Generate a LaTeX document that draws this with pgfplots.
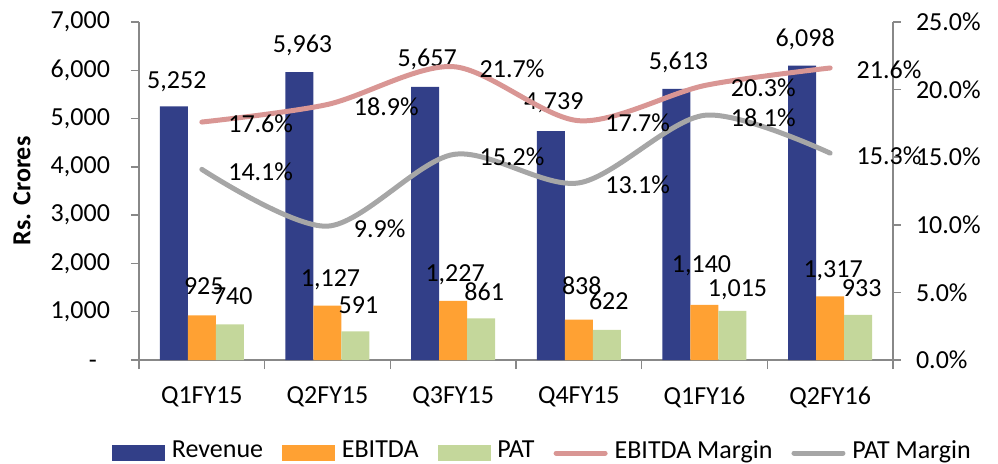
\documentclass[border=0pt]{standalone}
\usepackage{pgfplots}
\pgfplotsset{compat=1.18}
\usepackage{pgfplotstable}
\usepackage{fontspec}
\setmainfont{Carlito}
\definecolor{rev}{HTML}{323F88}
\definecolor{ebitda}{HTML}{FFA133}
\definecolor{pat}{HTML}{C4D79B}
\definecolor{em}{HTML}{D99694}
\definecolor{pm}{HTML}{A6A6A6}
\definecolor{axgray}{HTML}{888888}
% values; ox*/oy* = label offsets (pt) as placed in the reference
\pgfplotstableread{
x rev ebitda pat em pm oxr oyr oxe oye oxp oyp
0 5252 925 740 17.6 14.1 1.5 9.0 1.0 10.0 1.5 9.5
1 5963 1127 591 18.9 9.9 1.5 9.5 1.5 9.5 1.5 9.0
2 5657 1227 861 21.7 15.2 1.0 10.0 1.0 9.5 1.5 9.0
3 4739 838 622 17.7 13.1 1.5 10.5 1.5 12.5 1.0 10.0
4 5613 1140 1015 20.3 18.1 1.0 9.5 -1.5 16.0 2.5 7.0
5 6098 1317 933 21.6 15.3 1.5 9.5 1.5 9.5 1.8 9.0
}\data
\begin{document}
\begin{tikzpicture}[font=\fontsize{13}{15.6}\selectfont]
\useasboundingbox (-69.5pt,-51.5pt) rectangle (429.5pt,180pt);
\begin{axis}[
  scale only axis, width=377pt, height=169pt,
  xmin=-0.5, xmax=5.5, ymin=0, ymax=7000,
  axis x line*=bottom, axis y line*=left,
  axis line style={axgray, line width=0.75pt},
  tick style={axgray, line width=0.75pt},
  tick align=outside,
  major tick length=4pt, minor tick length=4.5pt,
  xtick={0,...,5},
  xticklabels={Q1FY15,Q2FY15,Q3FY15,Q4FY15,Q1FY16,Q2FY16},
  major x tick style={draw=none},
  minor xtick={-0.5,0.5,...,5.5},
  ytick={0,1000,...,7000},
  yticklabels={{-\phantom{0}},{1,000},{2,000},{3,000},{4,000},{5,000},{6,000},{7,000}},
  yticklabel style={anchor=east, xshift=-7pt},
  xticklabel style={anchor=north, yshift=-6pt},
  /pgf/number format/.cd, 1000 sep={,}, assume math mode=true, /pgfplots/.cd,
  ybar, bar width=0.2228,
  nodes near coords,
  every node near coord/.append style={anchor=south, inner sep=0pt, text depth=0pt, black, font=\fontsize{13}{15.6}\selectfont},
]
\addplot[fill=rev, draw=none, bar shift=-0.2228,
  visualization depends on={\thisrow{oxr}\as\ox},
  visualization depends on={\thisrow{oyr}\as\oy},
  every node near coord/.append style={xshift=\ox pt, yshift=\oy pt}] table[x=x, y=rev] {\data};
\addplot[fill=ebitda, draw=none, bar shift=0,
  visualization depends on={\thisrow{oxe}\as\ox},
  visualization depends on={\thisrow{oye}\as\oy},
  every node near coord/.append style={xshift=\ox pt, yshift=\oy pt}] table[x=x, y=ebitda] {\data};
\addplot[fill=pat, draw=none, bar shift=0.2228,
  visualization depends on={\thisrow{oxp}\as\ox},
  visualization depends on={\thisrow{oyp}\as\oy},
  every node near coord/.append style={xshift=\ox pt, yshift=\oy pt}] table[x=x, y=pat] {\data};
\end{axis}
\node[rotate=90, font=\fontsize{13}{15.6}\selectfont\bfseries] at (-58.5pt,84.5pt) {Rs. Crores};
\begin{axis}[
  scale only axis, width=377pt, height=169pt,
  xmin=-0.5, xmax=5.5, ymin=0, ymax=25,
  axis x line=none, axis y line*=right,
  axis line style={axgray, line width=0.75pt},
  tick style={axgray, line width=0.75pt},
  tick align=outside, major tick length=4pt,
  ytick={0,5,...,25},
  yticklabels={0.0\%,5.0\%,10.0\%,15.0\%,20.0\%,25.0\%},
  yticklabel style={anchor=west, xshift=4pt},
  /pgf/number format/.cd, fixed, fixed zerofill, precision=1, assume math mode=true, /pgfplots/.cd,
  nodes near coords={\pgfmathprintnumber{\pgfplotspointmeta}\%},
  every node near coord/.append style={anchor=west, inner sep=0pt, text depth=0pt, xshift=12pt, yshift=-1pt, black, font=\fontsize{13}{15.6}\selectfont},
  legend columns=-1,
  legend style={draw=none, fill=none, at={(0.5358,0)}, anchor=center, yshift=-45.5pt,
    font=\fontsize{13}{15.6}\selectfont,
    nodes={inner sep=1.5pt},
    /tikz/every odd column/.append style={column sep=2pt},
    /tikz/every even column/.append style={column sep=8pt}},
]
\addlegendimage{legend image code/.code={\fill[rev] (0pt,-4.75pt) rectangle (26pt,2.75pt);}}
\addlegendentry{Revenue}
\addlegendimage{legend image code/.code={\fill[ebitda] (0pt,-4.75pt) rectangle (26pt,2.75pt);}}
\addlegendentry{EBITDA}
\addlegendimage{legend image code/.code={\fill[pat] (0pt,-4.75pt) rectangle (26pt,2.75pt);}}
\addlegendentry{PAT}
\addlegendimage{legend image code/.code={\draw[em, line width=2.5pt, line cap=round] (1.25pt,-1pt) -- (25.75pt,-1pt);}}
\addlegendentry{EBITDA Margin}
\addlegendimage{legend image code/.code={\draw[pm, line width=2.5pt, line cap=round] (1.25pt,-1pt) -- (25.75pt,-1pt);}}
\addlegendentry{PAT Margin}
\addplot[em, line width=2.5pt, smooth, tension=0.5, line cap=round, forget plot] table[x=x, y=em] {\data};
\addplot[pm, line width=2.5pt, smooth, tension=0.5, line cap=round, forget plot] table[x=x, y=pm] {\data};
\end{axis}
\end{tikzpicture}
\end{document}
